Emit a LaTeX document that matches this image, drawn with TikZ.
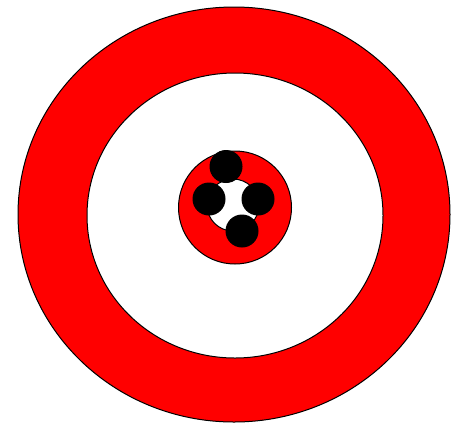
\documentclass[tikz,border=0pt]{standalone}
\begin{document}
\begin{tikzpicture}[x=1pt,y=-1pt,line width=1pt,
  redpart/.style={draw=black,fill=red},
  whitepart/.style={draw=black,fill=white},
  dot/.style={draw=black,fill=black}]
\useasboundingbox (0,0) rectangle (454,424);
\fill[white] (0,0) rectangle (454,424);
\draw[redpart] (234,214.5) ellipse [x radius=216, y radius=207.5];
\draw[whitepart] (235,215.5) ellipse [x radius=148, y radius=142.5];
\draw[redpart] (235,207.5) circle [radius=56.5];
\draw[whitepart] (233,205) circle [radius=26];
\fill[dot] (226,166.5) circle [radius=16];
\fill[dot] (209,199) circle [radius=16];
\fill[dot] (258,199) circle [radius=16];
\fill[dot] (242,231) circle [radius=16];
\end{tikzpicture}
\end{document}
